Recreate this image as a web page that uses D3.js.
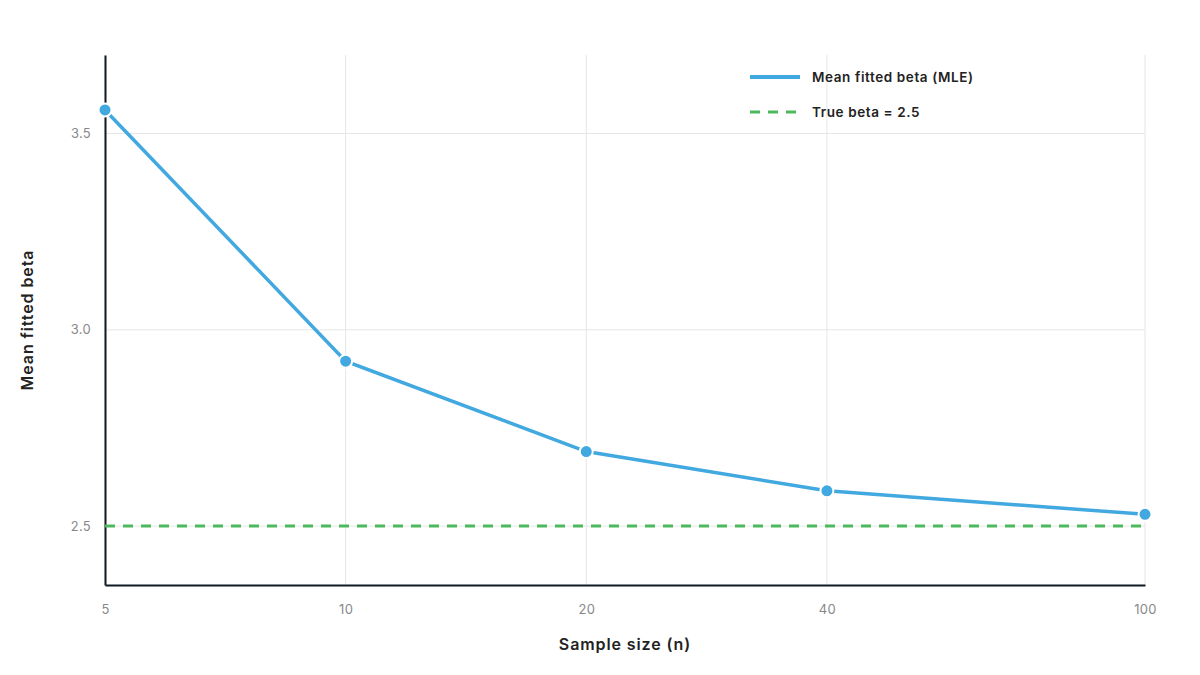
<!DOCTYPE html>
<html>
<head>
<meta charset="utf-8">
<script src="https://cdn.jsdelivr.net/npm/d3@7"></script>
<style>
  body { margin: 0; background: #fff; }
  svg { font-family: Inter, "Open Sans", sans-serif; }
</style>
</head>
<body>
<svg id="chart" width="1200" height="675"></svg>
<script>
"use strict";

// data
const sampleSizes = [5, 10, 20, 40, 100];
const meanBeta = [3.56, 2.92, 2.69, 2.59, 2.53];
const trueBeta = 2.5;
const yTicks = [2.5, 3.0, 3.5];
const seriesNames = ["Mean fitted beta (MLE)", "True beta = 2.5"];

const blue = "#42a8e0";
const green = "#4cb95c";

const svg = d3.select("#chart");
const margin = { top: 55, right: 55, bottom: 90, left: 105 };
const width = 1200 - margin.left - margin.right;
const height = 675 - margin.top - margin.bottom;

const x = d3.scaleLog()
    .domain([5, 100])
    .range([0, width]);
const y = d3.scaleLinear()
    .domain([2.35, 3.7])
    .range([height, 0]);

const g = svg.append("g")
    .attr("transform", `translate(${margin.left},${margin.top})`);

// grid
g.append("g")
    .selectAll("line")
    .data(sampleSizes)
    .join("line")
    .attr("x1", d => x(d)).attr("x2", d => x(d))
    .attr("y1", 0).attr("y2", height)
    .attr("stroke", "#e6e6e6");
g.append("g")
    .selectAll("line")
    .data(yTicks)
    .join("line")
    .attr("x1", 0).attr("x2", width)
    .attr("y1", d => y(d)).attr("y2", d => y(d))
    .attr("stroke", "#e6e6e6");

// axes
const xAxis = g.append("g")
    .attr("transform", `translate(0,${height})`)
    .call(d3.axisBottom(x).tickValues(sampleSizes).tickFormat(d3.format("d")).tickSize(0).tickPadding(20));
const yAxis = g.append("g")
    .call(d3.axisLeft(y).tickValues(yTicks).tickFormat(d3.format(".1f")).tickSize(0).tickPadding(14));
[xAxis, yAxis].forEach(a => {
    a.select(".domain").attr("stroke", "#111a22").attr("stroke-width", 2);
    a.selectAll("text")
        .attr("fill", "#888")
        .attr("font-size", 13)
        .attr("letter-spacing", "0.3px")
        .attr("font-family", "Inter, sans-serif");
});

// true beta reference
g.append("line")
    .attr("x1", 0).attr("x2", width)
    .attr("y1", y(trueBeta)).attr("y2", y(trueBeta))
    .attr("stroke", green)
    .attr("stroke-width", 3)
    .attr("stroke-dasharray", "10,8");

// mean fitted line
const pts = sampleSizes.map((n, i) => ({ n: n, v: meanBeta[i] }));
g.append("path")
    .datum(pts)
    .attr("fill", "none")
    .attr("stroke", blue)
    .attr("stroke-width", 3.5)
    .attr("d", d3.line().x(d => x(d.n)).y(d => y(d.v)));
g.append("g")
    .selectAll("circle")
    .data(pts)
    .join("circle")
    .attr("cx", d => x(d.n))
    .attr("cy", d => y(d.v))
    .attr("r", 6.5)
    .attr("fill", blue)
    .attr("stroke", "#fff")
    .attr("stroke-width", 2);

// axis titles
svg.append("text")
    .attr("x", margin.left + width / 2)
    .attr("y", 650)
    .attr("text-anchor", "middle")
    .attr("font-size", 16)
    .attr("font-weight", 600)
    .attr("letter-spacing", "0.9px")
    .attr("fill", "#222")
    .text("Sample size (n)");
svg.append("text")
    .attr("transform", `translate(33,${margin.top + 265}) rotate(-90)`)
    .attr("text-anchor", "middle")
    .attr("font-size", 16)
    .attr("font-weight", 600)
    .attr("letter-spacing", "0.9px")
    .attr("fill", "#222")
    .text("Mean fitted beta");

// legend
const legend = svg.append("g").attr("transform", "translate(750,77)");
const items = legend.selectAll("g")
    .data(seriesNames)
    .join("g")
    .attr("transform", (d, i) => `translate(0,${i * 35})`);
items.append("line")
    .attr("x1", 0).attr("x2", 50)
    .attr("stroke", (d, i) => i === 0 ? blue : green)
    .attr("stroke-width", (d, i) => i === 0 ? 4 : 3)
    .attr("stroke-dasharray", (d, i) => i === 0 ? null : "10,8");
items.append("text")
    .attr("x", 62)
    .attr("dy", "0.35em")
    .attr("font-size", 13.5)
    .attr("font-weight", 600)
    .attr("letter-spacing", "0.6px")
    .attr("fill", "#222")
    .text(d => d);
</script>
</body>
</html>
